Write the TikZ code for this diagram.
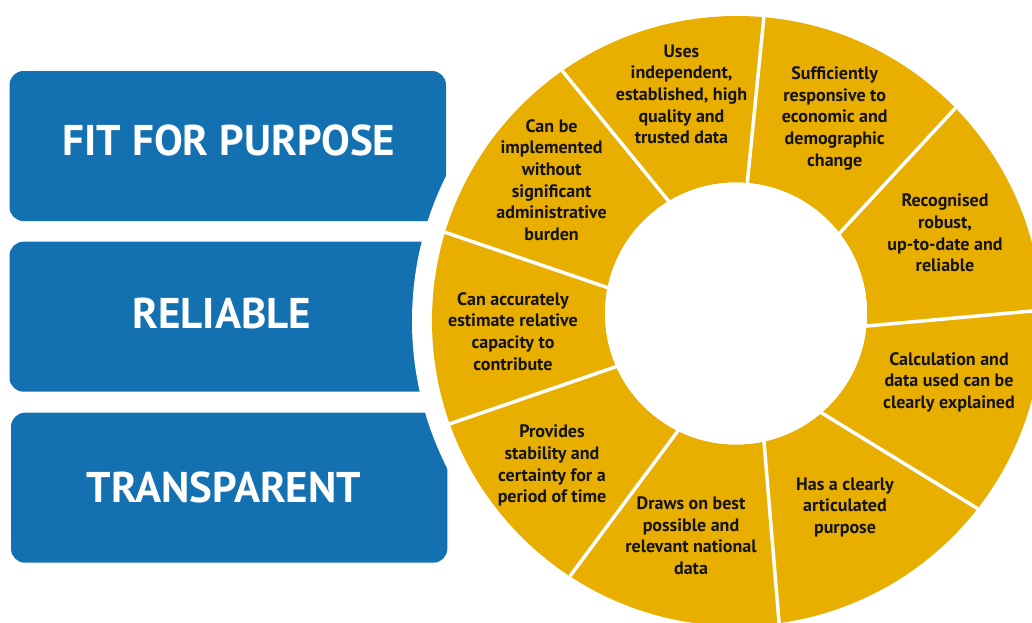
\documentclass[tikz,border=0pt]{standalone}
\usepackage{fontspec}
\setmainfont{PT Sans}
\usetikzlibrary{calc}
\definecolor{wblue}{RGB}{19,112,177}
\definecolor{wgold}{RGB}{232,174,0}
\definecolor{wtext}{RGB}{20,20,20}
\begin{document}
\begin{tikzpicture}[x=1pt,y=-1pt,
  bluebox/.style={fill=wblue, rounded corners=14pt},
  boxlabel/.style={text=white, anchor=base, inner sep=0pt, font=\fontsize{43}{48}\selectfont\bfseries},
  seglabel/.style={text=wtext, align=center, anchor=north, inner sep=0pt, font=\fontsize{18}{21.7}\selectfont\bfseries},
  divider/.style={white, line width=3.5pt}]
\clip (0,0) rectangle (1032,622);
\fill[white] (0,0) rectangle (1032,622);
% blue boxes
\fill[bluebox] (9.5,71) rectangle (446,221);
\fill[bluebox] (9.5,241.7) rectangle (446,391.7);
\fill[bluebox] (11,412.7) rectangle (447.3,562.7);
\node[boxlabel] (fit) at (229,155) {FIT FOR PURPOSE};
\node[boxlabel] (rel) at (221.7,328.3) {RELIABLE};
\node[boxlabel] (tra) at (224,502.7) {TRANSPARENT};
% ring
\coordinate (C) at (737,321);
\coordinate (Ci) at (736,313.5);
\fill[white] (C) circle[radius=325pt];
\fill[wgold, even odd rule] (C) circle[radius=305pt] (Ci) circle[radius=131pt];
\begin{scope}
\clip (C) circle[radius=305pt];
\foreach \ix/\iy/\ox/\oy in {747.3/182.7/764/16, 840/232.7/955/108.5, 866.7/326/1032/311,
  822.3/413.3/975/507, 764/441.7/779/622, 677.3/431.7/568.6/578, 616/366.7/449.3/424,
  606.7/287.3/443.3/231.7, 668.3/200.7/562/70.5}
  {\draw[divider] ($(\ix,\iy)!-0.05!(\ox,\oy)$) -- ($(\ix,\iy)!1.3!(\ox,\oy)$);}
\end{scope}
\fill[white] (Ci) circle[radius=131pt];
% segment texts
\node[seglabel] (sa) at (681.5,44.3) {Uses\\independent,\\established, high\\quality and\\trusted data};
\node[seglabel] (sb) at (834.7,66.4) {Sufficiently\\responsive to\\economic and\\demographic\\change};
\node[seglabel] (sc) at (945,193.7) {Recognised\\robust,\\up-to-date and\\reliable};
\node[seglabel] (sd) at (949,352) {Calculation and\\data used can be\\clearly explained};
\node[seglabel] (se) at (845,477.3) {Has a clearly\\articulated\\purpose};
\node[seglabel] (sf) at (691,496.4) {Draws on best\\possible and\\relevant national\\data};
\node[seglabel] (sg) at (552,424.6) {Provides\\stability and\\certainty for a\\period of time};
\node[seglabel] (sh) at (513,292) {Can accurately\\estimate relative\\capacity to\\contribute};
\node[seglabel] (si) at (551.6,119) {Can be\\implemented\\without\\significant\\administrative\\burden};
\end{tikzpicture}
\end{document}
